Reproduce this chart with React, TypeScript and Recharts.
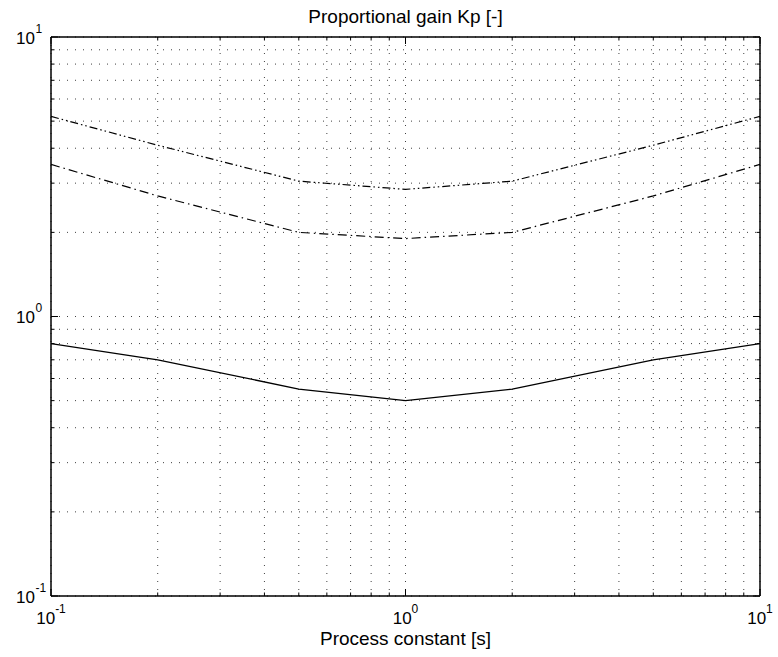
import React from 'react';
import { LineChart, Line, XAxis, YAxis, CartesianGrid } from 'recharts';

// process constant [s] at the kinks of the curves
const processConstant = [0.1, 0.2, 0.5, 1, 2, 5, 10];
// proportional gain Kp for the three tunings
const kpSolid = [0.8, 0.7, 0.55, 0.5, 0.55, 0.7, 0.8];
const kpDashDot = [3.5, 2.7, 2.0, 1.9, 2.0, 2.7, 3.5];
const kpDashDotDot = [5.2, 4.1, 3.05, 2.85, 3.05, 4.1, 5.2];

const logTicks = [
  0.1, 0.2, 0.3, 0.4, 0.5, 0.6, 0.7, 0.8, 0.9,
  1, 2, 3, 4, 5, 6, 7, 8, 9, 10,
];
const majorTicks = [0.1, 1, 10];

const FONT = '"Liberation Sans", Arial, Helvetica, sans-serif';

const data = processConstant.map((x, i) => ({
  x,
  solid: kpSolid[i],
  dashDot: kpDashDot[i],
  dashDotDot: kpDashDotDot[i],
}));

const isMajor = (v: number) => majorTicks.some((m) => Math.abs(m - v) < 1e-9);
const exponentOf = (v: number) => String(Math.round(Math.log10(v)));
const tickLen = (v: number) => (isMajor(v) ? 7 : 3.5);

const BottomTick = (props: any) => {
  const { x, y, payload } = props;
  const v = payload.value;
  return (
    <g>
      <line x1={x} y1={y} x2={x} y2={y - tickLen(v)} stroke="#000" strokeWidth={1} />
      {isMajor(v) && (
        <text x={x} y={y + 28} textAnchor="middle" fontSize={17} fontFamily={FONT} fill="#000">
          10<tspan dy={-11} fontSize={12}>{exponentOf(v)}</tspan>
        </text>
      )}
    </g>
  );
};

const TopTick = (props: any) => {
  const { x, y, payload } = props;
  return <line x1={x} y1={y} x2={x} y2={y + tickLen(payload.value)} stroke="#000" strokeWidth={1} />;
};

const LeftTick = (props: any) => {
  const { x, y, payload } = props;
  const v = payload.value;
  return (
    <g>
      <line x1={x} y1={y} x2={x + tickLen(v)} y2={y} stroke="#000" strokeWidth={1} />
      {isMajor(v) && (
        <g fontFamily={FONT} fill="#000">
          <text x={x - 16} y={y + 6.5} textAnchor="end" fontSize={17}>10</text>
          <text x={x - 15.5} y={y - 4.5} textAnchor="start" fontSize={12}>{exponentOf(v)}</text>
        </g>
      )}
    </g>
  );
};

const RightTick = (props: any) => {
  const { x, y, payload } = props;
  return <line x1={x} y1={y} x2={x - tickLen(payload.value)} y2={y} stroke="#000" strokeWidth={1} />;
};

const TitleLabel = (props: any) => {
  const vb = props.viewBox || { x: 51, y: 0, width: 709, height: 37 };
  return (
    <text x={vb.x + vb.width / 2} y={vb.y + 23} textAnchor="middle" fontSize={19} fontFamily={FONT} fill="#000">
      Proportional gain Kp [-]
    </text>
  );
};

const XTitleLabel = (props: any) => {
  const vb = props.viewBox || { x: 51, y: 596, width: 709, height: 61 };
  return (
    <text x={vb.x + vb.width / 2} y={vb.y + 49} textAnchor="middle" fontSize={19} fontFamily={FONT} fill="#000">
      Process constant [s]
    </text>
  );
};

const axisLine = { stroke: '#000', strokeWidth: 1.5 };

const App = () => {
  return (
    <div style={{ position: 'absolute', left: 0, top: 0, background: '#fff' }}>
      <LineChart width={778} height={657} data={data} margin={{ top: 0, right: 0, bottom: 0, left: 0 }}>
        <CartesianGrid
          xAxisId="bottom"
          yAxisId="left"
          stroke="#000"
          strokeWidth={1}
          strokeDasharray="1 7"
          strokeOpacity={0.75}
        />
        <XAxis
          xAxisId="bottom"
          dataKey="x"
          type="number"
          scale="log"
          domain={[0.1, 10]}
          ticks={logTicks}
          interval={0}
          allowDataOverflow
          height={61}
          tickSize={0}
          tickMargin={0}
          tickLine={false}
          axisLine={axisLine}
          tick={<BottomTick />}
          label={<XTitleLabel />}
        />
        <XAxis
          xAxisId="top"
          orientation="top"
          dataKey="x"
          type="number"
          scale="log"
          domain={[0.1, 10]}
          ticks={logTicks}
          interval={0}
          allowDataOverflow
          height={37}
          tickSize={0}
          tickMargin={0}
          tickLine={false}
          axisLine={axisLine}
          tick={<TopTick />}
          label={<TitleLabel />}
        />
        <YAxis
          yAxisId="left"
          type="number"
          scale="log"
          domain={[0.1, 10]}
          ticks={logTicks}
          interval={0}
          allowDataOverflow
          width={51}
          tickSize={0}
          tickMargin={0}
          tickLine={false}
          axisLine={axisLine}
          tick={<LeftTick />}
        />
        <YAxis
          yAxisId="right"
          orientation="right"
          type="number"
          scale="log"
          domain={[0.1, 10]}
          ticks={logTicks}
          interval={0}
          allowDataOverflow
          width={18}
          tickSize={0}
          tickMargin={0}
          tickLine={false}
          axisLine={axisLine}
          tick={<RightTick />}
        />
        <Line
          xAxisId="bottom"
          yAxisId="left"
          type="linear"
          dataKey="solid"
          stroke="#000"
          strokeWidth={1.3}
          dot={false}
          isAnimationActive={false}
        />
        <Line
          xAxisId="bottom"
          yAxisId="left"
          type="linear"
          dataKey="dashDot"
          stroke="#000"
          strokeWidth={1.2}
          strokeDasharray="9 4 1.5 4"
          dot={false}
          isAnimationActive={false}
        />
        <Line
          xAxisId="bottom"
          yAxisId="left"
          type="linear"
          dataKey="dashDotDot"
          stroke="#000"
          strokeWidth={1.2}
          strokeDasharray="8 3 1.5 3 1.5 3"
          dot={false}
          isAnimationActive={false}
        />
      </LineChart>
    </div>
  );
};

export default App;
